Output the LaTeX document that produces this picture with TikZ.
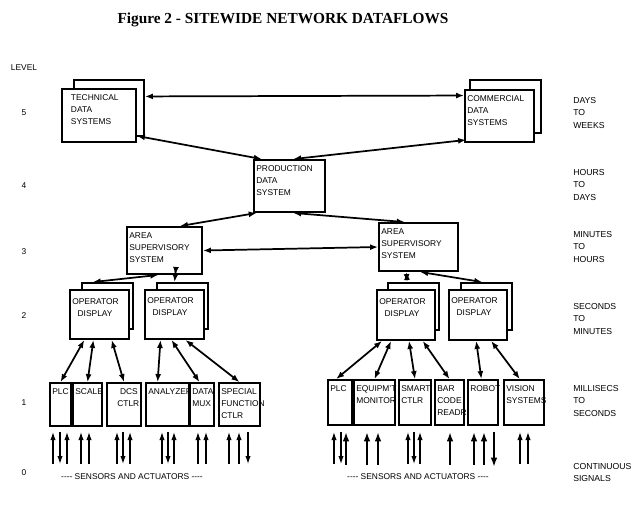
\documentclass[tikz,border=0pt]{standalone}
\usepackage{fontspec}
\setmainfont{Liberation Sans}
\newfontfamily\titlefont{Liberation Serif}
\usetikzlibrary{arrows.meta,calc}
\begin{document}
\begin{tikzpicture}[x=0.75pt,y=-0.75pt,
  box/.style={draw,line width=1.4pt,fill=white,inner sep=0pt},
  txt/.style={font=\fontsize{6.3}{9}\selectfont,align=left,inner sep=0pt},
  lvl/.style={font=\fontsize{6.5}{9.5}\selectfont,align=left,inner sep=0pt,anchor=north west},
  dbl/.style={{Latex[length=6pt,width=4.5pt]}-{Latex[length=6pt,width=4.5pt]},line width=1.3pt},
  up/.style={-{Latex[length=6pt,width=4pt]},line width=0.9pt},
  thk/.style={-{Latex[length=7pt,width=5pt]},line width=1.6pt}]
\useasboundingbox (0,0) rectangle (643,512);
\newcommand\B[6]{\node[box,minimum width={0.75pt*(#4-#2)},minimum height={0.75pt*(#5-#3)}] (#1) at ({(#2+#4)/2},{(#3+#5)/2}) {};
  \node[txt,anchor=north west] at ([shift={(3,6)}]#1.north west) {#6};}
\newcommand\K[5]{\node[box,minimum width={0.75pt*(#4-#2)},minimum height={0.75pt*(#5-#3)}] (#1) at ({(#2+#4)/2},{(#3+#5)/2}) {};}
\newcommand\dsh{{-}{-}{-}{-}}
% title
\node[font=\titlefont\bfseries\fontsize{11.5}{13}\selectfont] (title) at (283,20) {Figure 2 - SITEWIDE NETWORK DATAFLOWS};
% levels
\node[txt] (lv) at (24,68) {LEVEL};
\node[txt] (l5) at (24,113) {5};
\node[txt] (l4) at (24,186) {4};
\node[txt] (l3) at (24,252) {3};
\node[txt] (l2) at (24,316) {2};
\node[txt] (l1) at (24,403) {1};
\node[txt] (l0) at (24,473) {0};
\node[lvl] (r5) at (573,97) {DAYS\\TO\\WEEKS};
\node[lvl] (r4) at (573,169) {HOURS\\TO\\DAYS};
\node[lvl] (r3) at (573,231) {MINUTES\\TO\\HOURS};
\node[lvl] (r2) at (573,303) {SECONDS\\TO\\MINUTES};
\node[lvl] (r1) at (573,385) {MILLISECS\\TO\\SECONDS};
\node[lvl] (r0) at (573,463) {CONTINUOUS\\SIGNALS};
% level 5
\K{techb}{74}{80}{144}{136}
\B{tech}{62}{89}{136}{142}{\hspace{5pt}TECHNICAL\\\hspace{5pt}DATA\\\hspace{5pt}SYSTEMS}
\K{comb}{470}{80}{541}{133}
\B{com}{465}{90}{534}{142}{COMMERCIAL\\DATA\\SYSTEMS}
\B{prod}{254}{160}{325}{212}{PRODUCTION\\DATA\\SYSTEM}
% level 3
\B{arL}{127}{227}{202}{274}{AREA\\SUPERVISORY\\SYSTEM}
\B{arR}{379}{223}{458}{271}{AREA\\SUPERVISORY\\SYSTEM}
% level 2
\K{od1b}{82}{283}{133}{329}
\B{od1}{70}{290}{129}{339}{\\[-2pt]OPERATOR\\\hspace{4pt}DISPLAY}
\K{od2b}{157}{283}{208}{329}
\B{od2}{145}{290}{204}{339}{\\[-3pt]OPERATOR\\\hspace{4pt}DISPLAY}
\K{od3b}{388}{283}{439}{330}
\B{od3}{377}{290}{435}{340}{\\[-2pt]OPERATOR\\\hspace{4pt}DISPLAY}
\K{od4b}{461}{283}{512}{330}
\B{od4}{449}{290}{507}{340}{\\[-3pt]OPERATOR\\\hspace{4pt}DISPLAY}
% level 1 left
\B{plcL}{50}{383}{71}{426}{PLC}
\B{scale}{73}{383}{102}{426}{SCALE}
\B{dcs}{107}{383}{141}{426}{\hspace{8pt}DCS\\\hspace{6pt}CTLR}
\B{ana}{146}{383}{189}{426}{ANALYZER}
\B{mux}{190}{383}{214}{426}{DATA\\MUX}
\B{spec}{219}{383}{260}{426}{SPECIAL\\FUNCTION\\CTLR}
% level 1 right
\B{plcR}{328}{380}{352}{425}{PLC}
\B{equip}{354}{380}{395}{425}{EQUIPM'T\\MONITOR}
\B{smart}{399}{380}{431}{425}{SMART\\CTLR}
\B{bar}{435}{380}{464}{425}{BAR\\CODE\\READR}
\B{robot}{468}{380}{498}{425}{ROBOT}
\B{vision}{504}{380}{544}{425}{VISION\\SYSTEMS}
% level 5-4 connectors
\draw[dbl] ($(techb.north east)!0.3!(techb.south east)$) -- ($(com.north west)!0.12!(com.south west)$);
\draw[dbl] ($(tech.south east)+(0,-7)$) -- ($(prod.north west)!0.12!(prod.north east)$);
\draw[dbl] ($(com.south west)+(2,-3)$) -- ($(prod.north west)!0.55!(prod.north east)$);
\draw[dbl] ($(prod.south west)!0.05!(prod.south east)$) -- ($(arL.north west)!0.7!(arL.north east)$);
\draw[dbl] ($(prod.south west)!0.55!(prod.south east)$) -- ($(arR.north west)!0.33!(arR.north east)$);
\draw[dbl] (arL.east) -- (arR.east -| arR.west);
% level 3-2
\draw[dbl] ($(arL.south west)!0.42!(arL.south east)$) -- ($(od1b.north west)!0.22!(od1b.north east)$);
\draw[dbl] ($(arL.south west)!0.64!(arL.south east)$) -- ($(od2b.north west)!0.35!(od2b.north east)$);
\draw[dbl] ($(arR.south west)!0.35!(arR.south east)$) -- ($(od3b.north west)!0.38!(od3b.north east)$);
\draw[dbl] ($(arR.south west)!0.52!(arR.south east)$) -- ($(od4b.north west)!0.42!(od4b.north east)$);
% level 2-1
\draw[dbl] ($(od1.south west)!0.25!(od1.south east)$) -- (plcL.north);
\draw[dbl] ($(od1.south west)!0.4!(od1.south east)$) -- (scale.north);
\draw[dbl] ($(od1.south west)!0.7!(od1.south east)$) -- ($(dcs.north west)!0.5!(dcs.north east)$);
\draw[dbl] ($(od2.south west)!0.27!(od2.south east)$) -- ($(ana.north west)!0.28!(ana.north east)$);
\draw[dbl] ($(od2.south west)!0.45!(od2.south east)$) -- ($(mux.north west)!0.4!(mux.north east)$);
\draw[dbl] ($(od2.south west)!0.68!(od2.south east)$) -- ($(spec.north west)!0.5!(spec.north east)$);
\draw[dbl] ($(od3.south west)!0.1!(od3.south east)$) -- ($(plcR.north west)!0.35!(plcR.north east)$);
\draw[dbl] ($(od3.south west)!0.25!(od3.south east)$) -- ($(equip.north west)!0.5!(equip.north east)$);
\draw[dbl] ($(od3.south west)!0.55!(od3.south east)$) -- ($(smart.north west)!0.5!(smart.north east)$);
\draw[dbl] ($(od3.south west)!0.78!(od3.south east)$) -- ($(bar.north west)!0.5!(bar.north east)$);
\draw[dbl] ($(od4.south west)!0.47!(od4.south east)$) -- ($(robot.north west)!0.45!(robot.north east)$);
\draw[dbl] ($(od4.south west)!0.72!(od4.south east)$) -- ($(vision.north west)!0.4!(vision.north east)$);
% sensors (level 0)
\foreach \x in {53,67,81,89,117,130,162,174,198,206,229,239,334,408,420,520,528}
  \draw[up] (\x,464) -- (\x,432);
\foreach \x in {60,123,168,248,341,414}
  \draw[up] (\x,432) -- (\x,464);
\foreach \x in {346,367,378,450,474,484}
  \draw[thk] (\x,465) -- (\x,432);
\draw[thk] (494,432) -- (494,467);
\node[txt] (saL) at (132,477) {\dsh{} SENSORS AND ACTUATORS \dsh};
\node[txt] (saR) at (418,477) {\dsh{} SENSORS AND ACTUATORS \dsh};
\end{tikzpicture}
\end{document}
